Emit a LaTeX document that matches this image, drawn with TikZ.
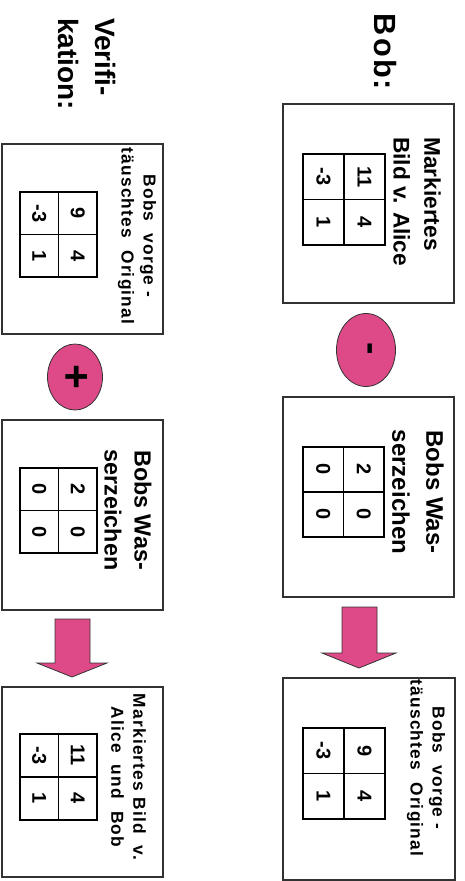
\documentclass[tikz,border=0pt]{standalone}
\usepackage{fontspec}
\setmainfont{Liberation Sans}
\newfontfamily\trackfont[LetterSpace=7]{Liberation Sans}
\usetikzlibrary{shapes.geometric,fit}
\definecolor{pinkc}{RGB}{222,74,136}
\definecolor{edgec}{RGB}{50,50,50}
\tikzset{
  panel/.style={draw=edgec, line width=0.8pt, fill=white, inner sep=0pt},
  gridline/.style={draw=black, line width=1.1pt},
  num/.style={rotate=-90, inner sep=0pt, font=\bfseries\fontsize{15}{15}\selectfont},
  vtext/.style={rotate=-90, inner sep=0pt},
  smalltext/.style={vtext, align=center, font=\trackfont\bfseries\fontsize{13}{16.5}\selectfont},
  opell/.style={ellipse, draw=edgec, line width=0.6pt, fill=pinkc, inner sep=0pt, rotate=-90},
  blockarrow/.style={draw=edgec, line width=0.6pt, fill=pinkc, line join=miter}
}
\newcommand{\numgrid}[9]{%
  \draw[gridline] (#1,#2) rectangle (#3,#4);
  \draw[gridline] ({(#1+#3)/2},#2) -- ({(#1+#3)/2},#4);
  \draw[gridline] (#1,{(#2+#4)/2}) -- (#3,{(#2+#4)/2});
  \node[num] (#9tr) at ({0.75*#3+0.25*#1},{0.75*#2+0.25*#4}) {#5};
  \node[num] (#9br) at ({0.75*#3+0.25*#1},{0.25*#2+0.75*#4}) {#6};
  \node[num] (#9tl) at ({0.25*#3+0.75*#1},{0.75*#2+0.25*#4}) {#7};
  \node[num] (#9bl) at ({0.25*#3+0.75*#1},{0.25*#2+0.75*#4}) {#8};
}
\begin{document}
\begin{tikzpicture}[x=0.75pt,y=-0.75pt]
\useasboundingbox (0,0) rectangle (464,881);

% titles
\node[vtext, font=\trackfont\bfseries\fontsize{23}{28}\selectfont] (tbob) at (385,52) {Bob:};
\node[vtext, anchor=north west, align=left, font=\bfseries\fontsize{21}{28}\selectfont] (tver) at (116,18) {Verifi-\\kation:};

% Bob column
\node[panel, fit={(283,104) (454,303)}] (b1) {};
\node[vtext, anchor=north west, align=left, font=\bfseries\fontsize{17}{23}\selectfont] (t1) at (441,137) {Markiertes\\Bild v. Alice};
\numgrid{303}{154}{385}{245}{11}{4}{-3}{1}{g1}

\node[opell, minimum width=54.75pt, minimum height=44.25pt] (minus) at (366,350) {};
\node[vtext, font=\bfseries\fontsize{28}{28}\selectfont] (minussign) at (366,349) {-};

\node[panel, fit={(283,397) (454,597)}] (b2) {};
\node[vtext, align=center, font=\bfseries\fontsize{18}{25.5}\selectfont] (t2) at (418,492) {Bobs Was-\\serzeichen};
\numgrid{303}{447}{384}{537}{2}{0}{0}{0}{g2}

\draw[blockarrow] (342,607) -- (377,607) -- (377,653) -- (396,653) -- (359,668) -- (322,653) -- (342,653) -- cycle;

\node[panel, fit={(283,678) (455,880)}] (b3) {};
\node[smalltext] (t3) at (426,768) {Bobs\ \ vorge -\\täuschtes\ \ Original};
\numgrid{303}{728}{385}{819}{9}{4}{-3}{1}{g3}

% Verification column
\node[panel, fit={(2,144) (163,334)}] (b4) {};
\node[smalltext] (t4) at (137,236) {Bobs\ \ vorge -\\täuschtes\ \ Original};
\numgrid{20}{192}{97}{277}{9}{4}{-3}{1}{g4}

\node[opell, minimum width=49.5pt, minimum height=41.25pt] (plus) at (75,377) {};
\node[vtext, font=\bfseries\fontsize{32}{32}\selectfont] (plussign) at (75,377) {+};

\node[panel, fit={(2,420) (163,610)}] (b5) {};
\node[vtext, align=center, font=\bfseries\fontsize{17.5}{22.5}\selectfont] (t5) at (128,510) {Bobs Was-\\serzeichen};
\numgrid{20}{468}{97}{553}{2}{0}{0}{0}{g5}

\draw[blockarrow] (55,619) -- (90,619) -- (90,663) -- (107,663) -- (72,677) -- (37,663) -- (55,663) -- cycle;

\node[panel, fit={(2,687) (163,877)}] (b6) {};
\node[smalltext] (t6) at (128.5,777) {Markiertes Bild\ \ v.\\Alice\ \ und\ \ Bob};
\numgrid{20}{734}{97}{820}{11}{4}{-3}{1}{g6}
\end{tikzpicture}
\end{document}
